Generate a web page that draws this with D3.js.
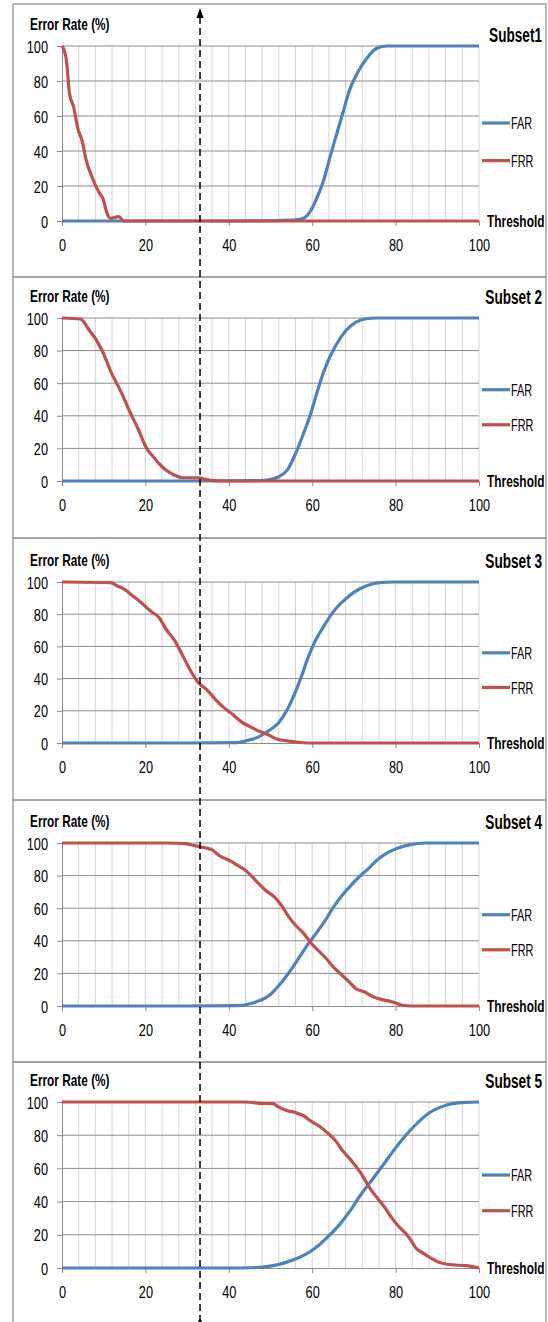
<!DOCTYPE html>
<html>
<head>
<meta charset="utf-8">
<script src="https://cdn.jsdelivr.net/npm/d3@7"></script>
<style>
  body { margin: 0; background: #fff; }
  svg { display: block; font-family: "Liberation Sans", Arial, sans-serif; }
</style>
</head>
<body>
<svg id="chart" width="548" height="1322"></svg>
<script>
// [threshold, error rate %]
var subset1Far = [[0,0],[40,0],[55.5,0.5],[57.9,1.5],[59.5,5.3],[61.1,13],[62.7,23],[64.3,36.8],[65.9,50],[67.5,63],[68.7,73],[70.7,84],[73.1,93],[75.5,98.7],[77.9,100],[100,100]];
var subset1Frr = [[0,100],[1,92.8],[1.8,72.8],[2.8,65],[3.8,52.8],[4.8,46],[5.8,34.8],[7.2,25],[8.8,16.7],[9.8,12.9],[10.8,4.4],[11.6,1.5],[13.6,2.5],[14.8,0],[40,0],[100,0]];

var subset2Far = [[0,0],[30,0],[47,0.2],[50.4,1.2],[52,2.6],[54.1,7],[56.2,18],[57.9,29],[59.6,41],[61.3,55.6],[62.9,68],[65.4,82],[68,92],[70.5,97.4],[72.6,99.4],[75.5,100],[100,100]];
var subset2Frr = [[0,100],[4.4,99.4],[6.4,93],[8.1,87],[9.8,79],[11.9,66],[14,55.6],[16.1,43.4],[18.2,32.2],[20.3,20],[21.9,14.9],[23.2,10.8],[24.9,6.7],[26.9,3.7],[29,2],[32.8,2],[34.5,1],[36.2,0.2],[40,0],[100,0]];

var subset3Far = [[0,0],[30,0],[41.8,0.2],[44.3,1.5],[46.9,3.5],[49.4,7.3],[51.9,12.4],[54,20.7],[55.7,30],[57.3,40.5],[59,53],[60.7,63.3],[62.8,72.6],[64.9,81],[67.4,88],[69.9,93.4],[72.9,97.5],[76.2,99.6],[79.6,100],[100,100]];
var subset3Frr = [[0,100],[11.6,99.6],[13.3,97.5],[15,95.4],[17,91.3],[19.1,87],[21.2,82],[23.3,77.8],[25,70.5],[27.1,63.3],[28.8,55],[30.9,44.6],[32.6,37.8],[34.7,33.2],[36.8,27],[38.9,21.8],[41,17.6],[43.1,13],[45.2,10],[47.3,7.3],[49.4,5.2],[51.5,2.5],[53.6,1.5],[56.1,0.6],[59.4,0],[100,0]];

var subset4Far = [[0,0],[30,0],[42.1,0.2],[45.1,1.4],[47.6,3.5],[49.7,6.5],[51.3,10.6],[53,15.7],[55.1,22.9],[57.2,31],[58.8,37.2],[60.9,44.4],[63,52],[65.1,60.7],[67.2,67.9],[69.3,74],[71.4,79.6],[73.5,84.3],[75.5,89.4],[78,93.9],[80.6,96.9],[83.5,99],[87.2,100],[100,100]];
var subset4Frr = [[0,100],[25.5,100],[29.6,99.6],[32.1,98.2],[34.2,97.1],[35.9,95.9],[38,91.8],[40.1,89.4],[42.1,86.3],[43.8,83.6],[45.5,79.6],[47.2,75],[48.8,71],[50.9,66.9],[52.6,61.8],[54.3,55],[56,49.5],[58,44.4],[59.7,38.7],[61.4,34.2],[63.4,29],[65.1,23.9],[67.2,18.8],[68.9,14.7],[70.5,10.6],[72.6,8.6],[74.7,5.5],[76.8,3.9],[79.3,2.5],[81.4,0.6],[83.9,0],[100,0]];

var subset5Far = [[0,0],[40,0],[47.4,0.4],[50.6,1.4],[53.7,3.4],[57,6.5],[59.3,9.5],[61.7,14],[64.1,19.6],[66.5,26],[68.9,33.8],[71.3,42.9],[73.7,51],[76.1,59],[78.5,67.2],[80.9,75.3],[83.3,82.4],[85.7,88.5],[88.1,93.5],[90.5,96.6],[93.6,99],[96.8,99.8],[100,100]];
var subset5Frr = [[0,100],[44.2,100],[47.4,99.2],[50.6,99],[51.8,97.2],[53.7,95],[56.1,93.5],[57.7,92],[59.7,88.5],[61.7,85.4],[63.7,81.4],[65.7,76.3],[67.3,70.6],[68.9,66.2],[70.5,61.1],[71.7,57],[72.9,52],[74.1,47],[75.7,41.9],[77.3,36.8],[78.9,30.8],[80.5,25.7],[82.5,20.6],[83.7,16.6],[84.9,11.9],[86.5,9.1],[88.1,6.5],[90.1,3.8],[92.1,2.4],[94.4,1.8],[96.8,1.4],[100,0]];

var subsetNames = ["Subset1", "Subset 2", "Subset 3", "Subset 4", "Subset 5"];
var farSeries = [subset1Far, subset2Far, subset3Far, subset4Far, subset5Far];
var frrSeries = [subset1Frr, subset2Frr, subset3Frr, subset4Frr, subset5Frr];
var seriesNames = ["FAR", "FRR"];
var xTicks = [0, 20, 40, 60, 80, 100];
var yTicks = [0, 20, 40, 60, 80, 100];
var thresholdMark = 33.1;

var colors = {FAR: "#4f81bd", FRR: "#c0504d"};

// panel frames and plot rows (pixels)
var panels = [
  {top: 4,    bottom: 277,  y100: 46,   y0: 221},
  {top: 277,  bottom: 538,  y100: 318,  y0: 481},
  {top: 538,  bottom: 800,  y100: 582,  y0: 743},
  {top: 800,  bottom: 1062, y100: 843,  y0: 1006},
  {top: 1062, bottom: 1330, y100: 1102, y0: 1268}
];

var svg = d3.select("#chart");
var frameLeft = 13, frameRight = 546;

var x = d3.scaleLinear().domain([0, 100]).range([62, 479]);

// the source figure has tall, narrow (Calibri-like) lettering: squeeze horizontally
function addText(g, px, py, str, size, weight, anchor, sx) {
  return g.append("text")
    .attr("transform", "translate(" + px + "," + py + ") scale(" + sx + ",1)")
    .attr("dy", "0.36em")
    .attr("text-anchor", anchor)
    .attr("font-size", size)
    .attr("font-weight", weight)
    .text(str);
}

function drawPanel(i) {
  var p = panels[i];
  var g = svg.append("g");
  var y = d3.scaleLinear().domain([0, 100]).range([p.y0, p.y100]);

  g.append("rect")
    .attr("x", frameLeft).attr("y", p.top)
    .attr("width", frameRight - frameLeft).attr("height", p.bottom - p.top)
    .attr("fill", "none").attr("stroke", "#a0a0a0").attr("stroke-width", 1.5);

  // vertical grid every 4
  g.append("g").selectAll("line")
    .data(d3.range(4, 101, 4))
    .join("line")
    .attr("x1", d => x(d)).attr("x2", d => x(d))
    .attr("y1", y(0)).attr("y2", y(100))
    .attr("stroke", "#d4d4d4").attr("stroke-width", 1);

  // horizontal grid
  g.append("g").selectAll("line")
    .data(yTicks.slice(1))
    .join("line")
    .attr("x1", x(0)).attr("x2", x(100))
    .attr("y1", d => y(d)).attr("y2", d => y(d))
    .attr("stroke", "#8c8c8c").attr("stroke-width", 1);

  var xAxis = d3.axisBottom(x).tickValues(xTicks).tickSize(5).tickPadding(13).tickSizeOuter(0);
  var xg = g.append("g").attr("transform", "translate(0," + y(0) + ")").call(xAxis);
  xg.select(".domain").attr("stroke", "#8c8c8c");
  xg.selectAll(".tick line").attr("stroke", "#8c8c8c");
  xg.selectAll("text")
    .attr("font-size", 17).attr("fill", "#000").attr("font-family", null)
    .attr("transform", "scale(0.75,1)");

  var yAxis = d3.axisLeft(y).tickValues(yTicks).tickSize(5).tickPadding(8).tickSizeOuter(0);
  var yg = g.append("g").attr("transform", "translate(" + x(0) + ",0)").call(yAxis);
  yg.select(".domain").attr("stroke", "#8c8c8c");
  yg.selectAll(".tick line").attr("stroke", "#8c8c8c");
  yg.selectAll("text")
    .attr("font-size", 17).attr("fill", "#000").attr("font-family", null)
    .attr("x", -14 / 0.75).attr("dy", "0.36em")
    .attr("transform", "scale(0.75,1)");

  var line = d3.line()
    .x(d => x(d[0]))
    .y(d => y(d[1]))
    .curve(d3.curveMonotoneX);

  [farSeries[i], frrSeries[i]].forEach(function(s, k) {
    g.append("path")
      .attr("d", line(s))
      .attr("fill", "none")
      .attr("stroke", colors[seriesNames[k]])
      .attr("stroke-width", 3.2)
      .attr("stroke-linejoin", "round");
  });

  // legend
  [56, 34.5].forEach(function(v, k) {
    g.append("line")
      .attr("x1", 482).attr("x2", 510)
      .attr("y1", y(v)).attr("y2", y(v))
      .attr("stroke", colors[seriesNames[k]]).attr("stroke-width", 3.2);
    addText(g, 511, y(v), seriesNames[k], 17, "normal", "start", 0.64);
  });

  addText(g, 487, y(0), "Threshold", 17, "bold", "start", 0.7);
  addText(g, 30, y(100) - 22, "Error Rate (%)", 16, "bold", "start", 0.74);
  addText(g, 542, y(100) - 11 - (i == 0 ? 0 : 10), subsetNames[i], 20, "bold", "end", 0.68);
}

for (let i = 0; i < panels.length; i++) drawPanel(i);

// threshold marker across all panels
var tx = x(thresholdMark);
svg.append("line")
  .attr("x1", tx).attr("x2", tx)
  .attr("y1", 17).attr("y2", 1318)
  .attr("stroke", "#000").attr("stroke-width", 1.5)
  .attr("stroke-dasharray", "7,4");
svg.append("path")
  .attr("d", "M" + tx + ",8 L" + (tx - 3.5) + ",18 L" + (tx + 3.5) + ",18 Z")
  .attr("fill", "#000");
svg.append("path")
  .attr("d", "M" + tx + ",1317 L" + (tx - 3.5) + ",1326 L" + (tx + 3.5) + ",1326 Z")
  .attr("fill", "#000");
</script>
</body>
</html>
